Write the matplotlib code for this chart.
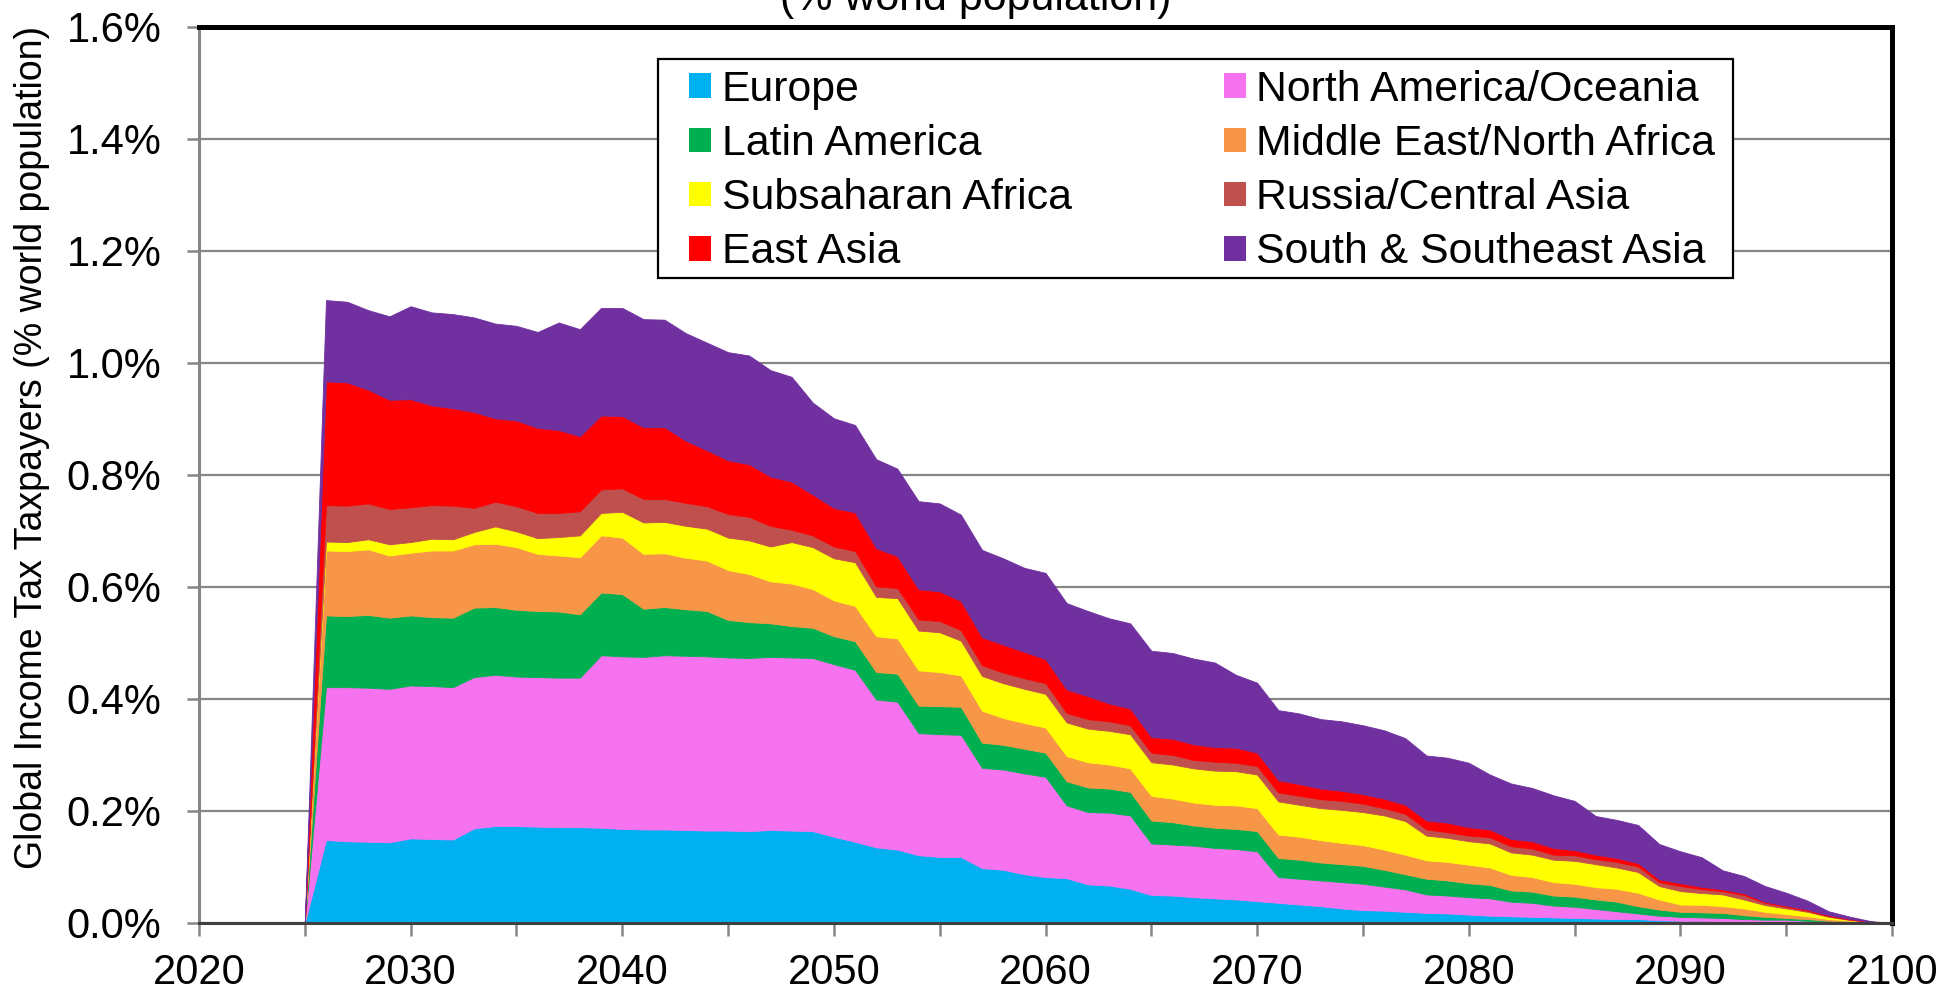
import numpy as np
import matplotlib
matplotlib.use('Agg')
import matplotlib.pyplot as plt
from matplotlib.patches import Patch, Rectangle
from matplotlib.ticker import MultipleLocator, FuncFormatter

plt.rcParams['font.family'] = ['Liberation Sans', 'DejaVu Sans']

years = np.arange(2020, 2101)

# доли налогоплательщиков по регионам, % мирового населения (по годам 2020..2100)
europe = [0, 0, 0, 0, 0, 0, .148, .146, .145, .144,
          .151, .150, .149, .169, .173, .173, .172, .171, .171, .170,
          .168, .167, .167, .166, .165, .165, .164, .166, .165, .164,
          .154, .145, .135, .131, .121, .118, .118, .098, .095, .087,
          .082, .080, .069, .067, .061, .050, .049, .046, .044, .042,
          .039, .036, .033, .030, .026, .023, .022, .020, .018, .017,
          .015, .013, .012, .011, .010, .009, .008, .007, .007, .005,
          .004, .004, .003, .003, .002, .002, .001, .001, .0004, .0001,
          0]
north_america = [0, 0, 0, 0, 0, 0, .273, .275, .275, .274,
                 .273, .273, .272, .270, .270, .267, .267, .267, .267, .308,
                 .308, .308, .311, .311, .311, .309, .309, .309, .309, .309,
                 .308, .307, .264, .264, .218, .219, .218, .179, .179, .180,
                 .179, .130, .129, .130, .131, .092, .091, .092, .090, .090,
                 .089, .046, .046, .046, .047, .047, .043, .040, .033, .032,
                 .031, .031, .026, .025, .021, .020, .017, .014, .010, .008,
                 .007, .006, .006, .004, .004, .004, .003, .002, .001, .0002,
                 0]
latin_america = [0, 0, 0, 0, 0, 0, .128, .127, .130, .127,
                 .125, .123, .124, .124, .121, .119, .118, .118, .113, .112,
                 .111, .086, .086, .083, .081, .067, .064, .060, .056, .054,
                 .050, .051, .049, .050, .049, .050, .050, .045, .044, .044,
                 .043, .043, .044, .043, .042, .041, .040, .036, .036, .036,
                 .036, .034, .034, .032, .032, .032, .030, .027, .028, .027,
                 .025, .024, .020, .020, .018, .018, .017, .017, .013, .011,
                 .009, .009, .009, .007, .005, .003, .003, .001, .001, .0003,
                 0]
mena = [0, 0, 0, 0, 0, 0, .116, .116, .117, .111,
        .112, .119, .120, .113, .113, .112, .102, .100, .102, .102,
        .101, .098, .096, .092, .090, .089, .086, .075, .076, .069,
        .064, .063, .064, .063, .063, .061, .056, .057, .048, .046,
        .045, .045, .045, .043, .042, .044, .042, .041, .041, .042,
        .041, .042, .041, .040, .038, .037, .036, .035, .033, .033,
        .033, .031, .028, .026, .024, .023, .022, .023, .024, .018,
        .013, .0135, .012, .012, .009, .007, .005, .003, .002, .0004,
        0]
subsaharan = [0, 0, 0, 0, 0, 0, .016, .016, .018, .020,
              .019, .021, .020, .022, .031, .028, .028, .033, .039, .040,
              .046, .056, .056, .057, .057, .058, .060, .062, .074, .075,
              .075, .078, .070, .072, .071, .071, .062, .062, .062, .061,
              .060, .060, .060, .060, .061, .060, .061, .061, .061, .061,
              .060, .059, .057, .057, .059, .059, .061, .060, .044, .043,
              .042, .043, .040, .040, .040, .041, .041, .038, .037, .024,
              .024, .021, .021, .016, .012, .010, .008, .004, .001, .0005,
              0]
russia = [0, 0, 0, 0, 0, 0, .065, .065, .064, .063,
          .062, .060, .060, .043, .044, .045, .045, .043, .043, .042,
          .042, .042, .041, .041, .040, .042, .042, .037, .022, .021,
          .021, .020, .019, .018, .020, .020, .019, .019, .019, .019,
          .019, .017, .017, .017, .016, .017, .017, .015, .016, .015,
          .015, .016, .016, .016, .016, .015, .013, .013, .011, .010,
          .010, .011, .011, .011, .009, .010, .009, .010, .010, .007,
          .009, .007, .006, .008, .004, .003, .002, .0015, .001, .0005,
          0]
east_asia = [0, 0, 0, 0, 0, 0, .221, .220, .203, .195,
             .193, .178, .174, .171, .149, .153, .152, .148, .134, .132,
             .129, .128, .128, .111, .100, .096, .094, .088, .086, .073,
             .069, .069, .068, .057, .054, .053, .052, .050, .050, .047,
             .043, .042, .041, .032, .030, .028, .029, .028, .026, .027,
             .024, .022, .021, .019, .018, .017, .017, .016, .016, .017,
             .015, .014, .013, .013, .012, .009, .008, .007, .006, .005,
             .005, .004, .003, .003, .002, .002, .002, .0015, .001, .0003,
             0]
south_asia = [0, 0, 0, 0, 0, 0, .145, .144, .142, .149,
              .166, .166, .168, .169, .169, .169, .171, .192, .191, .192,
              .193, .193, .192, .192, .192, .193, .194, .190, .187, .164,
              .160, .156, .159, .156, .157, .157, .154, .156, .154, .150,
              .154, .154, .152, .152, .152, .154, .153, .153, .151, .130,
              .125, .125, .126, .124, .124, .123, .122, .119, .116, .116,
              .115, .098, .099, .095, .094, .088, .069, .068, .068, .063,
              .057, .053, .034, .031, .028, .023, .016, .007, .004, .001,
              0]

labels = ['Europe', 'North America/Oceania', 'Latin America',
          'Middle East/North Africa', 'Subsaharan Africa',
          'Russia/Central Asia', 'East Asia', 'South & Southeast Asia']
colors = ['#00B0F0', '#F672EE', '#00B050', '#F79646', '#FFFF00',
          '#C0504D', '#FF0000', '#7030A0']
series = [europe, north_america, latin_america, mena, subsaharan,
          russia, east_asia, south_asia]

fig = plt.figure(figsize=(19.6, 9.93), dpi=100)
ax = fig.add_axes([0.10153, 0.0705, 0.86378, 0.90261])

ax.stackplot(years, *series, colors=colors, linewidth=0.6, edgecolor='face')

ax.set_xlim(2020, 2100)
ax.set_ylim(0, 1.6)
ax.xaxis.set_major_locator(MultipleLocator(10))
ax.xaxis.set_minor_locator(MultipleLocator(5))
ax.yaxis.set_major_locator(MultipleLocator(0.2))
ax.yaxis.set_major_formatter(FuncFormatter(lambda v, p: f'{v:.1f}%'))

grey = '#868686'
ax.set_axisbelow(True)
ax.grid(axis='y', color=grey, linewidth=1.6)
ax.tick_params(axis='both', which='both', direction='out', color=grey,
               width=1.8, length=9, labelsize=30)
ax.tick_params(axis='x', pad=12.5)
ax.tick_params(axis='y', pad=18)

ax.spines['left'].set_color(grey)
ax.spines['left'].set_linewidth(2.2)
ax.spines['bottom'].set_color('#404040')
ax.spines['bottom'].set_linewidth(2.2)
for s in ['top', 'right']:
    ax.spines[s].set_color('black')
    ax.spines[s].set_linewidth(3.6)

ax.set_ylabel('Global Income Tax Taxpayers (% world population)', fontsize=27)
ax.yaxis.set_label_coords(-0.088, 0.531)

fig.text(0.498, 0.990, '(% world population)', fontsize=31,
         ha='center', va='baseline')

# рамка легенды рисуется отдельно (в Excel отступы несимметричные)
box = Rectangle((658 / 1960, 1 - 278 / 993), 1075 / 1960, 219 / 993,
                transform=fig.transFigure, facecolor='white',
                edgecolor='black', linewidth=1.6, zorder=4.5, clip_on=False)
ax.add_patch(box)

order = [0, 2, 4, 6, 1, 3, 5, 7]
handles = [Patch(facecolor=colors[i], edgecolor='none') for i in order]
leg = ax.legend(handles, [labels[i] for i in order], ncol=2,
                loc='upper left', bbox_to_anchor=(689 / 1960, 1 - 70 / 993),
                bbox_transform=fig.transFigure, borderaxespad=0,
                fontsize=30.8, handlelength=0.51, handleheight=0.51,
                handletextpad=0.25, columnspacing=3.56, labelspacing=0.33,
                borderpad=0, frameon=False)
leg.set_zorder(5)

fig.savefig('out.png', dpi=100)
